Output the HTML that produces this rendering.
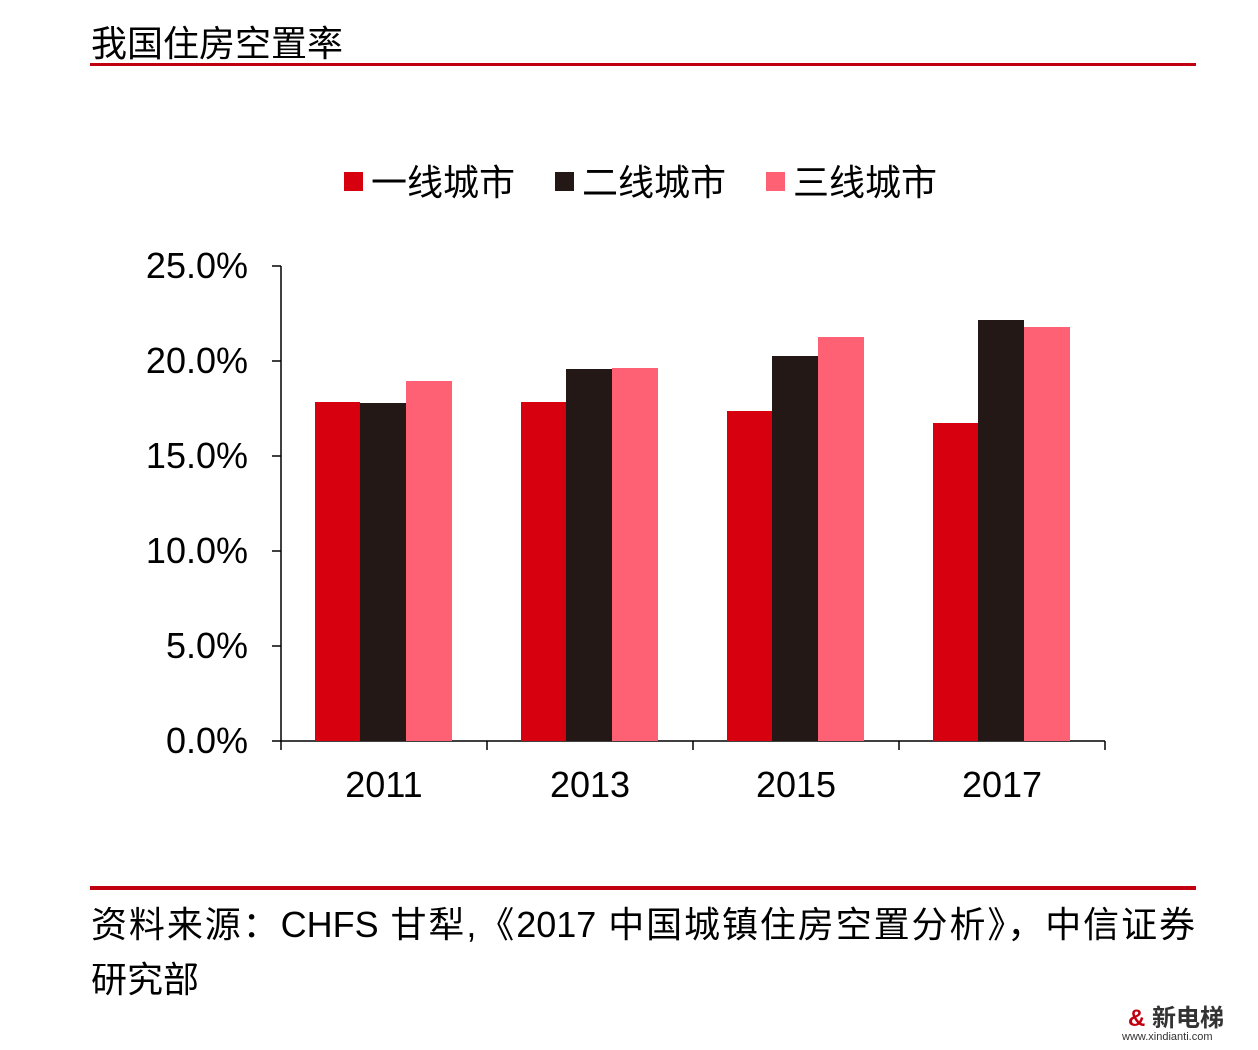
<!DOCTYPE html>
<html><head><meta charset="utf-8"><style>
body{margin:0;background:#fff;width:1258px;height:1050px;overflow:hidden;position:relative;font-family:"Liberation Sans","Noto Sans CJK SC",sans-serif;}
.t{position:absolute;white-space:nowrap;color:#000;}
</style></head><body>
<div class="t" style="left:91px;top:15px;font-size:36px;">我国住房空置率</div>
<div style="position:absolute;left:90px;top:63px;width:1106px;height:3px;background:#c00010"></div>
<svg width="1258" height="1050" style="position:absolute;left:0;top:0" font-family="Liberation Sans, Noto Sans CJK SC, sans-serif">
<g font-size="36">
<rect x="344" y="172" width="19" height="19" fill="#d7000f"/><text x="371" y="195">一线城市</text>
<rect x="555" y="172" width="19" height="19" fill="#231815"/><text x="582" y="195">二线城市</text>
<rect x="766" y="172" width="19" height="19" fill="#ff6174"/><text x="793" y="195">三线城市</text>
</g>
<g font-size="36" text-anchor="end">
<text x="248" y="278">25.0%</text><text x="248" y="373">20.0%</text><text x="248" y="468">15.0%</text>
<text x="248" y="563">10.0%</text><text x="248" y="658">5.0%</text><text x="248" y="753">0.0%</text>
</g>
<g stroke="#000" stroke-width="1.5">
<line x1="281" y1="266" x2="281" y2="741"/><line x1="281" y1="741" x2="1105" y2="741"/>
<line x1="272" y1="266" x2="281" y2="266"/><line x1="272" y1="361" x2="281" y2="361"/><line x1="272" y1="456" x2="281" y2="456"/>
<line x1="272" y1="551" x2="281" y2="551"/><line x1="272" y1="646" x2="281" y2="646"/><line x1="272" y1="741" x2="281" y2="741"/>
<line x1="281" y1="741" x2="281" y2="750"/><line x1="487" y1="741" x2="487" y2="750"/><line x1="693" y1="741" x2="693" y2="750"/><line x1="899" y1="741" x2="899" y2="750"/><line x1="1105" y1="741" x2="1105" y2="750"/>
</g>
<g>
<rect x="315" y="402" width="45" height="339" fill="#d7000f"/><rect x="360" y="403" width="46" height="338" fill="#231815"/><rect x="406" y="381" width="46" height="360" fill="#ff6174"/>
<rect x="521" y="402" width="45" height="339" fill="#d7000f"/><rect x="566" y="369" width="46" height="372" fill="#231815"/><rect x="612" y="368" width="46" height="373" fill="#ff6174"/>
<rect x="727" y="411" width="45" height="330" fill="#d7000f"/><rect x="772" y="356" width="46" height="385" fill="#231815"/><rect x="818" y="337" width="46" height="404" fill="#ff6174"/>
<rect x="933" y="423" width="45" height="318" fill="#d7000f"/><rect x="978" y="320" width="46" height="421" fill="#231815"/><rect x="1024" y="327" width="46" height="414" fill="#ff6174"/>
</g>
<g font-size="36" text-anchor="middle">
<text x="384" y="797">2011</text><text x="590" y="797">2013</text><text x="796" y="797">2015</text><text x="1002" y="797">2017</text>
</g>
</svg>
<div style="position:absolute;left:90px;top:886px;width:1106px;height:4px;background:#c00010"></div>
<div style="position:absolute;left:91px;top:896px;width:1104px;font-size:36px;text-align:justify;text-align-last:justify;white-space:nowrap;">资料来源：CHFS 甘犁,《2017 中国城镇住房空置分析》，中信证券</div>
<div class="t" style="left:91px;top:951px;font-size:36px;">研究部</div>
<div class="t" style="left:1128px;top:998px;font-size:24px;font-weight:bold;color:#c00010;">&amp;<span style="color:#333"> 新电梯</span></div>
<div class="t" style="left:1122px;top:1031px;font-size:11px;color:#333;">www.xindianti.com</div>
</body></html>
